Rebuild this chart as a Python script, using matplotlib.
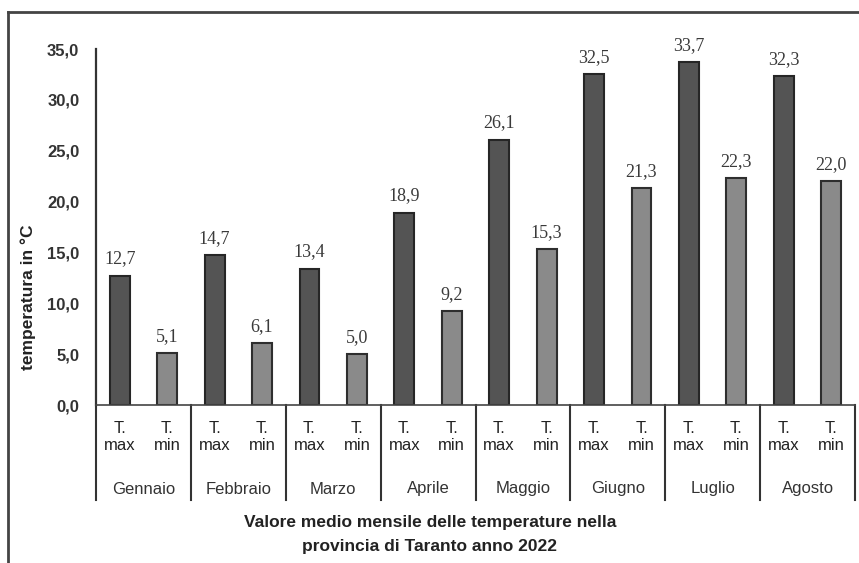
import matplotlib
matplotlib.use("Agg")
import matplotlib.pyplot as plt
from matplotlib.transforms import blended_transform_factory
from matplotlib.lines import Line2D

months = ["Gennaio", "Febbraio", "Marzo", "Aprile", "Maggio", "Giugno", "Luglio", "Agosto"]
series = ["T.\nmax", "T.\nmin"]
t_max = [12.7, 14.7, 13.4, 18.9, 26.1, 32.5, 33.7, 32.3]
t_min = [5.1, 6.1, 5.0, 9.2, 15.3, 21.3, 22.3, 22.0]
y_ticks = [0, 5, 10, 15, 20, 25, 30, 35]

W, H = 859, 563
fig = plt.figure(figsize=(W / 100, H / 100), dpi=100)
ax = fig.add_axes([96 / W, 1 - 405 / H, (855 - 96) / W, (405 - 49) / H])

fc_max, ec_max = "#545454", "#262626"
fc_min, ec_min = "#8a8a8a", "#2e2e2e"
bw = 0.42
xmax = [2 * i for i in range(len(months))]
xmin = [2 * i + 1 for i in range(len(months))]
ax.bar(xmax, t_max, width=bw, color=fc_max, edgecolor=ec_max, linewidth=1.5)
ax.bar(xmin, t_min, width=bw, color=fc_min, edgecolor=ec_min, linewidth=1.5)

def fmt(v):
    return f"{v:.1f}".replace(".", ",")

for xs, vs in ((xmax, t_max), (xmin, t_min)):
    for x, v in zip(xs, vs):
        ax.annotate(fmt(v), (x, v), xytext=(0, 6), textcoords="offset points",
                    ha="center", va="bottom", fontsize=13, color="#3a3a3a",
                    family="Liberation Serif")

ax.set_xlim(-0.5, 2 * len(months) - 0.5)
ax.set_ylim(0, 35)
ax.set_yticks(y_ticks)
ax.set_yticklabels([fmt(v) for v in y_ticks], fontsize=12, fontweight="bold",
                   color="#333333", family="Liberation Sans")
ax.tick_params(axis="y", length=0, pad=12)
ax.set_xticks([])
for s in ["top", "right"]:
    ax.spines[s].set_visible(False)
ax.spines["left"].set_linewidth(1.6)
ax.spines["left"].set_color("#333333")
ax.spines["bottom"].set_linewidth(1.2)
ax.spines["bottom"].set_color("#444444")

tr = blended_transform_factory(ax.transData, ax.transAxes)
ax_h = 405 - 49
def ay(py):
    return -(py - 405) / ax_h

# group separators
for i in range(len(months) + 1):
    ax.add_line(Line2D([2 * i - 0.5, 2 * i - 0.5], [0, ay(500)], transform=tr,
                       color="#333333", linewidth=1.5, clip_on=False))

for i, m in enumerate(months):
    for j, s in enumerate(series):
        ax.text(2 * i + j, ay(437), s, transform=tr, ha="center", va="center",
                fontsize=12, color="#222222", linespacing=1.2,
                family="Liberation Sans")
    ax.text(2 * i + 0.5, ay(489), m, transform=tr, ha="center", va="center",
            fontsize=12, color="#333333", family="Liberation Sans")

fig.text(430 / W, 1 - 535 / H,
         "Valore medio mensile delle temperature nella\nprovincia di Taranto anno 2022",
         ha="center", va="center", fontsize=12.5, fontweight="bold", color="#222222",
         linespacing=1.75, family="Liberation Sans")
fig.text(28 / W, 1 - 297 / H, "temperatura in °C", rotation=90, ha="center",
         va="center", fontsize=12.5, fontweight="bold", color="#222222",
         family="Liberation Sans")

# outer frame
fig.add_artist(Line2D([8 / W, 8 / W], [0, 1 - 12 / H], transform=fig.transFigure,
                      color="#444444", linewidth=2))
fig.add_artist(Line2D([8 / W, 1], [1 - 12 / H, 1 - 12 / H], transform=fig.transFigure,
                      color="#444444", linewidth=2))

fig.savefig("out.png", dpi=100)
